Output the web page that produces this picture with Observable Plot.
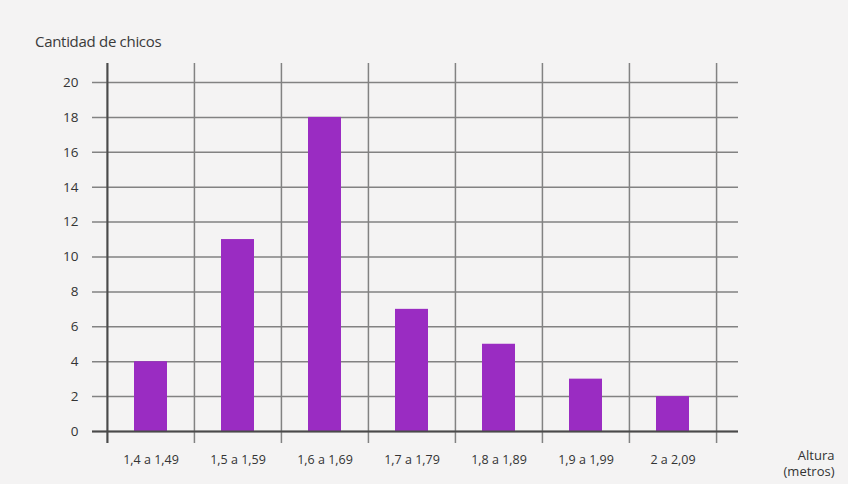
<!DOCTYPE html>
<html><head><meta charset="utf-8">
<script src="https://cdn.jsdelivr.net/npm/d3@7"></script>
<script src="https://cdn.jsdelivr.net/npm/@observablehq/plot@0.6"></script>
<style>
body{margin:0;background:#f3f2f2;font-family:"Open Sans",sans-serif;}
#wrap{width:848px;height:484px;position:relative;overflow:hidden;background:#f4f3f3;}
#title{position:absolute;left:35px;top:31px;font-size:15px;color:#3a3a3a;letter-spacing:-0.3px;}
#chart{position:absolute;left:0;top:50px;}
</style></head><body>
<div id="wrap"><div id="title">Cantidad de chicos</div><div id="chart"></div></div>
<script>
const categories = ["1,4 a 1,49","1,5 a 1,59","1,6 a 1,69","1,7 a 1,79","1,8 a 1,89","1,9 a 1,99","2 a 2,09"];
const counts = [4, 11, 18, 7, 5, 3, 2];
const yTicks = [0, 2, 4, 6, 8, 10, 12, 14, 16, 18, 20];
const xLabel = ["Altura", "(metros)"];

const data = categories.map((c, i) => ({rango: c, chicos: counts[i]}));
const W = 848, H = 434, mL = 106, mR = 132, mT = 32, mB = 53;
const bw = (W - mL - mR) / categories.length;
const grid = {stroke: "#828282", strokeWidth: 1.5};
const axisStyle = {stroke: "#4a4a4a", strokeWidth: 2};

const plot = Plot.plot({
  width: W, height: H,
  marginLeft: mL, marginRight: mR, marginTop: mT, marginBottom: mB,
  style: {background: "transparent", fontFamily: "Open Sans, sans-serif", fontSize: "13px", color: "#333"},
  x: {domain: categories, padding: 0, axis: null, label: null},
  y: {domain: [0, 20], axis: null, label: null},
  marks: [
    Plot.ruleY(yTicks, {...grid, insetLeft: -14, insetRight: -22}),
    Plot.ruleX(categories, {...grid, dx: -bw / 2, insetTop: -19, insetBottom: -12}),
    Plot.ruleX([categories[categories.length - 1]], {...grid, dx: bw / 2, insetTop: -19, insetBottom: -12}),
    Plot.barY(data, {x: "rango", y: "chicos", fill: "#9a2cc2", insetLeft: 27, insetRight: 27}),
    Plot.ruleX([categories[0]], {...axisStyle, dx: -bw / 2, insetTop: -19, insetBottom: -12}),
    Plot.ruleY([0], {...axisStyle, insetLeft: -14, insetRight: -22}),
    Plot.axisY({ticks: yTicks, tickSize: 0, tickPadding: 28, fontSize: 13.5, fill: "#333", letterSpacing: -0.5, label: null}),
    Plot.axisX({tickSize: 0, tickPadding: 24, fontSize: 12.5, fill: "#333", letterSpacing: -0.6, label: null}),
    Plot.text([xLabel.join("\n")], {frameAnchor: "bottom-right", dx: 118, dy: 16, lineAnchor: "top", textAnchor: "end", fontSize: 13, fill: "#333", lineHeight: 1.3})
  ]
});
document.getElementById("chart").append(plot);
</script>
</body></html>
